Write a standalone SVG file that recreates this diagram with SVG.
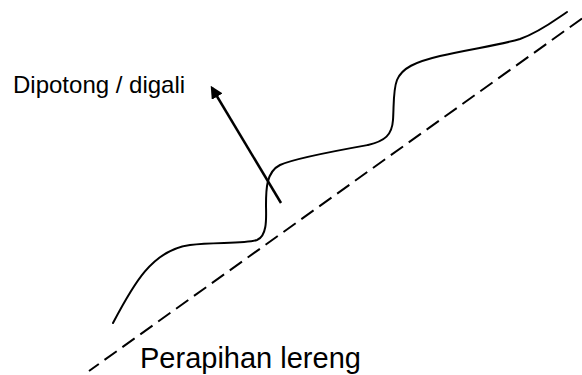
<svg xmlns="http://www.w3.org/2000/svg" width="582" height="375" viewBox="0 0 582 375">
  <style>
    .label { font-family: "Liberation Sans", Arial, sans-serif; fill: #000; }
    .ground { fill: none; stroke: #000; stroke-width: 2; stroke-linecap: round; }
    .slope { fill: none; stroke: #000; stroke-width: 2; stroke-dasharray: 15 7; }
    .arrow { fill: none; stroke: #000; stroke-width: 2.5; }
  </style>
  <defs>
    <marker id="head" viewBox="0 0 10 10" refX="8" refY="5" markerWidth="5" markerHeight="5" orient="auto" markerUnits="strokeWidth">
      <path d="M0,0 L10,5 L0,10 Z" fill="#000"/>
    </marker>
  </defs>

  <rect width="582" height="375" fill="#fff"/>

  <!-- trimmed slope line -->
  <g id="slope-line">
    <line class="slope" x1="582" y1="18.5" x2="89" y2="371"/>
  </g>

  <!-- original ground surface -->
  <g id="ground-surface">
    <path class="ground" d="M113,323 C133,285 152,250 190,245 C215,242 245,244 257,240 C268,236 266,215 266,205 C266,190 266,172 280,165 C295,158 340,150 368,145 C385,141 392,135 393,120 C394,105 393,90 397,80 C402,68 415,62 440,56 C470,49 500,45 520,39 C540,32 555,20 567,12"/>
  </g>

  <!-- cut direction -->
  <g id="connectors">
    <line class="arrow" x1="281" y1="203" x2="212" y2="88" marker-end="url(#head)"/>
  </g>

  <g id="label-cut">
    <text class="label" x="13" y="93" font-size="24">Dipotong / digali</text>
  </g>
  <g id="label-slope">
    <text class="label" x="140" y="368" font-size="29">Perapihan lereng</text>
  </g>
</svg>
